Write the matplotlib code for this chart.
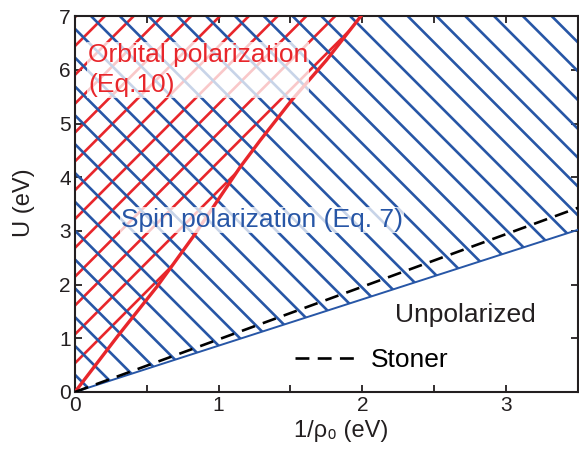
import numpy as np
import matplotlib.pyplot as plt
from matplotlib.patches import Polygon
from matplotlib.lines import Line2D
from matplotlib.ticker import MultipleLocator

plt.rcParams['font.family'] = ['Liberation Sans', 'DejaVu Sans']
plt.rcParams['lines.scale_dashes'] = False

# phase boundaries (x = 1/rho0 in eV, U in eV)
x_edge = [0.0, 3.5]
u_spin = [0.0, 3.02]      # Eq. 7 boundary
u_stoner = [0.0, 3.43]    # Stoner criterion
orb_x = [0.0, 0.30, 0.57, 0.83, 1.15, 1.29, 1.51, 1.75, 1.99]
orb_u = [0.0, 1.05, 1.96, 2.92, 4.19, 4.69, 5.44, 6.18, 7.00]

x_max, u_max = 3.5, 7.0

# hatch line parameters (spacing / slope in data units)
hatch_step = 0.537
hatch_slope = 2.68
blue_offset = 0.32
red_offset = 0.0

blue = '#2756a6'
red = '#e8262b'
ink = '#231f20'

fig = plt.figure(figsize=(5.79, 4.49), dpi=100)
ax = fig.add_axes([0.1295, 0.127, 0.8685, 0.837])
ax.set_xlim(0, x_max)
ax.set_ylim(0, u_max)

spin_region = Polygon([(x_edge[0], u_spin[0]), (x_edge[1], u_spin[1]),
                       (x_max, u_max), (0, u_max)],
                      closed=True, fc='none', ec='none')
orb_region = Polygon(list(zip(orb_x, orb_u)) + [(0, u_max)],
                     closed=True, fc='none', ec='none')
ax.add_patch(spin_region)
ax.add_patch(orb_region)

xs = np.array([-1.0, 4.5])
for k in range(15):
    d = red_offset + k * hatch_step
    ln, = ax.plot(xs, d + hatch_slope * xs, color=red, lw=1.9, zorder=2)
    ln.set_clip_path(orb_region)
for k in range(33):
    c = blue_offset + k * hatch_step
    ln, = ax.plot(xs, c - hatch_slope * xs, color=blue, lw=1.9, zorder=2.1)
    ln.set_clip_path(spin_region)

# boundaries
ax.plot(x_edge, u_spin, color=blue, lw=1.4, zorder=3)
ax.plot(orb_x, orb_u, color=red, lw=2.4, zorder=3)
ax.plot(x_edge, u_stoner, color='black', lw=1.9, dashes=(10, 6), zorder=4)

# labels
box = dict(facecolor='white', alpha=0.75, edgecolor='none', pad=1)
ax.text(0.09, 6.0, 'Orbital polarization\n(Eq.10)', color=red, fontsize=19,
        ha='left', va='center', linespacing=1.3, bbox=box, zorder=5)
ax.text(0.32, 3.07, 'Spin polarization (Eq. 7)', color=blue, fontsize=19,
        ha='left', va='baseline', bbox=box, zorder=5)
ax.text(2.23, 1.30, 'Unpolarized', color=ink, fontsize=19,
        ha='left', va='baseline', zorder=5)

handle = Line2D([], [], color='black', lw=1.9, dashes=(10, 6))
ax.legend([handle], ['Stoner'], loc='center left', bbox_to_anchor=(0.437, 0.085),
          frameon=False, fontsize=19, handlelength=2.4, handletextpad=0.5,
          borderpad=0, borderaxespad=0)

ax.xaxis.set_major_locator(MultipleLocator(1))
ax.xaxis.set_minor_locator(MultipleLocator(0.5))
ax.yaxis.set_major_locator(MultipleLocator(1))
ax.tick_params(which='both', direction='in', top=True, right=True,
               length=5, width=1.3, color=ink)
ax.tick_params(labelsize=15, labelcolor=ink, pad=3)
for s in ax.spines.values():
    s.set_linewidth(1.5)
    s.set_color(ink)

ax.set_xlabel('1/ρ₀ (eV)', fontsize=17, color=ink)
ax.set_ylabel('U (eV)', fontsize=17, color=ink)
ax.xaxis.set_label_coords(0.53, -0.075)
ax.yaxis.set_label_coords(-0.08, 0.505)

fig.savefig('out.png', dpi=100)
